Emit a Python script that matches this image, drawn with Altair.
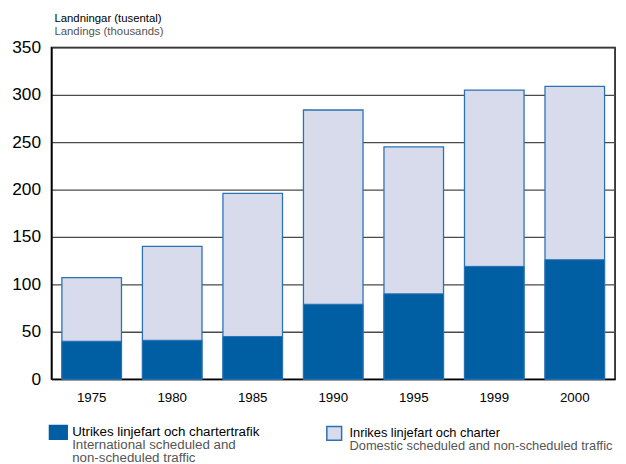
import altair as alt
import pandas as pd

years = ["1975", "1980", "1985", "1990", "1995", "1999", "2000"]
international = [40, 41, 45, 79, 90, 119, 126]
domestic = [67, 99, 151, 205, 155, 186, 183]
y_ticks = [0, 50, 100, 150, 200, 250, 300, 350]

DARK = "#005ea2"
LIGHT = "#d7dbeb"
EDGE = "#2b72b5"
FONT = "Liberation Sans"

df = pd.DataFrame({"year": years, "intl": international, "dom": domestic})
df["total"] = df["intl"] + df["dom"]

x_enc = alt.X(
    "year:N",
    sort=years,
    scale=alt.Scale(paddingInner=0.26, paddingOuter=0.13),
    axis=alt.Axis(title=None, labelAngle=0, ticks=False, labelFontSize=13.5,
                  labelColor="#000", labelPadding=12, domainColor="#000",
                  domainWidth=1.5, labelFont=FONT),
)
y_scale = alt.Scale(domain=[0, 350], nice=False)
y_axis = alt.Axis(title=None, values=y_ticks, ticks=False, labelFontSize=17.5,
                  labelColor="#000", labelPadding=11, domainColor="#000",
                  domainWidth=1.5, grid=True, gridColor="#4a4a4a", gridWidth=1.3,
                  labelFont=FONT)

base = alt.Chart(df)
total_bar = base.mark_bar(fill=LIGHT, stroke=EDGE, strokeWidth=1.3).encode(
    x=x_enc, y=alt.Y("total:Q", scale=y_scale, axis=y_axis)
)
intl_bar = base.mark_bar(fill=DARK, stroke=EDGE, strokeWidth=1.0).encode(
    x=x_enc, y=alt.Y("intl:Q", scale=y_scale)
)

one = alt.Data(values=[{}])

def txt(lines, x, y, color, size=13):
    return alt.Chart(one).mark_text(
        text=lines, align="left", baseline="alphabetic", font=FONT,
        fontSize=size, color=color, lineHeight=13
    ).encode(x=alt.value(x), y=alt.value(y))

def square(x0, x1, y0, y1, fill, stroke):
    return alt.Chart(one).mark_rect(fill=fill, stroke=stroke, strokeWidth=1.5).encode(
        x=alt.value(x0), x2=alt.value(x1), y=alt.value(y0), y2=alt.value(y1)
    )

layers = [
    total_bar,
    intl_bar,
    txt("Landningar (tusental)", 3, -26, "#000", 11.5),
    txt("Landings (thousands)", 3, -13, "#555", 11.5),
    square(-2, 16, 383, 397, DARK, DARK),
    txt("Utrikes linjefart och chartertrafik", 21, 394, "#000", 13.5),
    txt(["International scheduled and", "non-scheduled traffic"], 21, 407, "#555", 13.5),
    square(279, 294, 384, 398, LIGHT, EDGE),
    txt("Inrikes linjefart och charter", 302, 394.5, "#000"),
    txt("Domestic scheduled and non-scheduled traffic", 302, 407.5, "#555"),
]

chart = alt.layer(*layers).properties(
    width=571,
    height=336,
    autosize=alt.AutoSizeParams(type="none"),
    padding={"left": 44, "top": 37, "right": 3, "bottom": 83},
    background="white",
).configure_view(stroke="#000", strokeWidth=1.5)

chart.save("out.html", embed_options={"renderer": "svg", "actions": False})
